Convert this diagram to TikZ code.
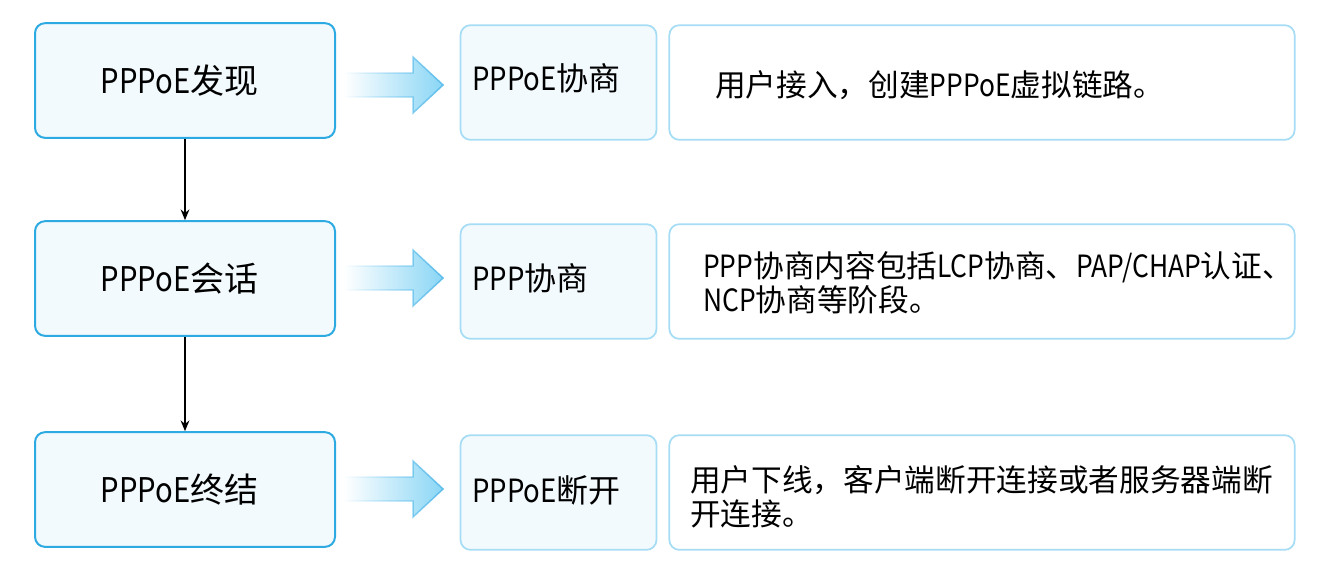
\documentclass[tikz,border=0pt]{standalone}
\usepackage{fontspec}
\setmainfont{Noto Sans CJK SC}
% narrower face for the Latin runs
\newfontfamily\latinface[FakeStretch=0.86]{Noto Sans CJK SC}
\newcommand{\lat}[1]{{\latinface #1}}
\usetikzlibrary{fadings,arrows.meta}
\definecolor{stepedge}{HTML}{2DAAE1}
\definecolor{stepfill}{HTML}{F2FAFE}
\definecolor{softedge}{HTML}{A6DDF4}
\definecolor{arrowblue}{HTML}{8AD6F5}
\definecolor{arrowedge}{HTML}{5DBDEB}
\tikzfading[name=fadein, left color=transparent!100, right color=transparent!0]
\tikzset{
  stepbox/.style={draw=stepedge, line width=1.5pt, fill=stepfill, rounded corners=7.5pt,
    minimum width=225pt, minimum height=86pt, inner sep=0pt, font=\fontsize{25.5}{30}\selectfont},
  phasebox/.style={draw=softedge, line width=1.3pt, fill=stepfill, rounded corners=7.5pt,
    minimum width=147pt, minimum height=86pt, inner sep=0pt},
  notebox/.style={draw=softedge, line width=1.3pt, fill=white, rounded corners=7.5pt,
    minimum width=469pt, minimum height=86pt, inner sep=0pt},
  phasetext/.style={anchor=west, inner sep=0pt, font=\fontsize{24}{27}\selectfont},
  notetext/.style={anchor=west, inner sep=0pt, align=left, font=\fontsize{23}{25.5}\selectfont},
  flow/.style={-{Stealth[length=8pt,width=6.5pt]}, line width=1.4pt, black}
}
% block arrow pointing right, centred on the given y (px units)
\newcommand{\blockarrow}[1]{%
  \shade[left color=white, right color=arrowblue]
    (344,#1-12) -- (413,#1-12) -- (413,#1-28) -- (443,#1) -- (413,#1+28) -- (413,#1+12) -- (344,#1+12) -- cycle;
  \draw[arrowedge, line width=1.1pt, path fading=fadein, line join=miter]
    (344,#1-12) -- (413,#1-12) -- (413,#1-28) -- (443,#1) -- (413,#1+28) -- (413,#1+12) -- (344,#1+12) -- cycle;
}
\begin{document}
\begin{tikzpicture}[x=0.75pt, y=-0.75pt]
\useasboundingbox (0,0) rectangle (1331,572);

% left column: the three PPPoE stages (text sits a little left of centre)
\node[stepbox] (s1) at (185,80.5) {\lat{PPPoE}发现\kern 8pt};
\node[stepbox] (s2) at (185,278.5) {\lat{PPPoE}会话\kern 8pt};
\node[stepbox] (s3) at (185,489.5) {\lat{PPPoE}终结\kern 8pt};
\draw[flow] (s1.south) -- (s2.north);
\draw[flow] (s2.south) -- (s3.north);

% block arrows
\blockarrow{85}
\blockarrow{278}
\blockarrow{489}

% middle column: protocol phases
\node[phasebox] (p1) at (558.5,82.5) {};
\node[phasebox] (p2) at (558.5,281.5) {};
\node[phasebox] (p3) at (558.5,492.5) {};
\node[phasetext] (t1) at (472,78) {\lat{PPPoE}协商};
\node[phasetext] (t2) at (472,278) {\lat{PPP}协商};
\node[phasetext] (t3) at (472,490) {\lat{PPPoE}断开};

% right column: descriptions
\node[notebox] (n1) at (982,82.5) {};
\node[notebox] (n2) at (982,281.5) {};
\node[notebox] (n3) at (982,492.5) {};
\node[notetext] (d1) at (715,85) {用户接入，创建\lat{PPPoE}虚拟链路。};
\node[notetext] (d2) at (703,283) {\lat{PPP}协商内容包括\lat{LCP}协商、\lat{PAP/CHAP}认证、\\\lat{NCP}协商等阶段。};
\node[notetext] (d3) at (690,497) {用户下线，客户端断开连接或者服务器端断\\开连接。};
\end{tikzpicture}
\end{document}
